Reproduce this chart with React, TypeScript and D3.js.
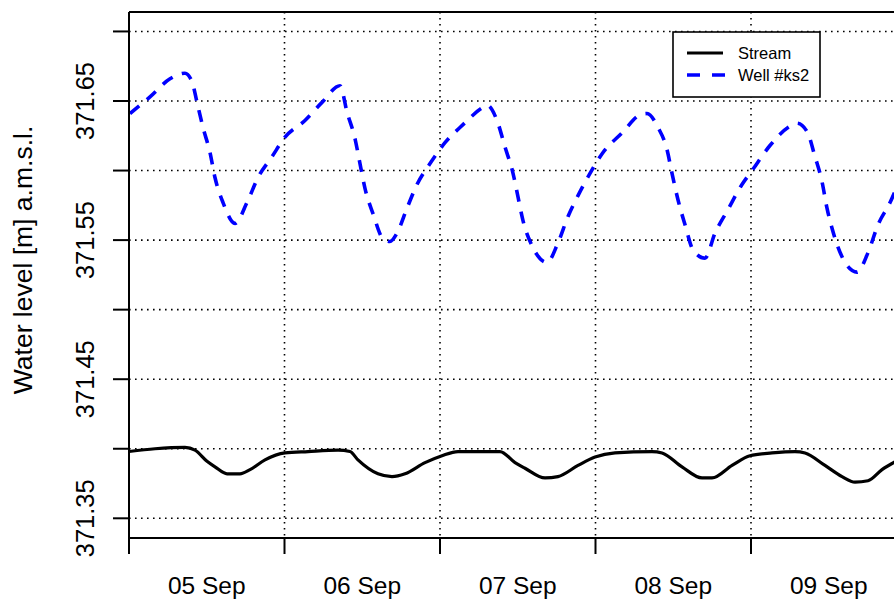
import React from "react";
import * as d3 from "d3";

// Hours after 05 Sep 00:00 and water levels (m a.m.s.l.)
const wellHours = [0.15, 3.24, 6.33, 8.64, 9.72, 10.5, 11.42, 12.5, 13.27, 14.51, 16.36, 18.21, 19.91, 22.07, 24.08, 27.16, 29.79, 32.57, 33.65, 34.88, 35.65, 36.43, 37.66, 39.2, 40.28, 41.36, 42.91, 44.45, 46.46, 48.77, 51.55, 54.48, 55.26, 56.8, 58.03, 59.27, 60.04, 60.81, 62.2, 64.52, 66.21, 67.76, 69.3, 71.15, 73.16, 76.09, 78.87, 79.95, 81.65, 83.04, 83.81, 84.73, 85.82, 87.05, 88.9, 90.45, 92.45, 94.61, 96.16, 98.93, 101.71, 103.1, 104.65, 105.88, 106.96, 107.73, 108.66, 110.05, 112.36, 114.06, 115.6, 117.46, 118.4];
const wellLevel = [371.641, 371.653, 371.666, 371.67, 371.664, 371.649, 371.631, 371.613, 371.595, 371.577, 371.562, 371.577, 371.595, 371.61, 371.624, 371.636, 371.649, 371.661, 371.642, 371.623, 371.605, 371.587, 371.569, 371.551, 371.549, 371.555, 371.573, 371.59, 371.605, 371.62, 371.633, 371.645, 371.647, 371.636, 371.617, 371.598, 371.581, 371.564, 371.546, 371.534, 371.548, 371.567, 371.582, 371.598, 371.613, 371.627, 371.64, 371.641, 371.631, 371.615, 371.598, 371.579, 371.561, 371.543, 371.537, 371.555, 371.572, 371.59, 371.6, 371.618, 371.631, 371.634, 371.628, 371.61, 371.592, 371.573, 371.556, 371.538, 371.527, 371.541, 371.561, 371.577, 371.587];

const streamHours = [0, 4.01, 8.64, 10.19, 12.04, 13.27, 15.13, 17.13, 18.68, 20.99, 24.08, 27.63, 32.26, 34.1, 35.34, 38.43, 40.59, 42.6, 45.69, 48.31, 50.78, 56.03, 57.26, 59.58, 61.12, 64.21, 66.21, 69.3, 71.93, 75.01, 80.72, 82.27, 85.35, 88.44, 89.98, 93.07, 95.85, 99.24, 102.79, 104.34, 107.42, 110.05, 112.05, 114.06, 116.22, 118.38];
const streamLevel = [371.398, 371.4, 371.401, 371.399, 371.391, 371.387, 371.382, 371.382, 371.385, 371.392, 371.397, 371.398, 371.399, 371.398, 371.392, 371.382, 371.38, 371.382, 371.39, 371.395, 371.398, 371.398, 371.398, 371.39, 371.386, 371.379, 371.38, 371.388, 371.394, 371.397, 371.398, 371.397, 371.387, 371.379, 371.379, 371.388, 371.395, 371.397, 371.398, 371.397, 371.388, 371.38, 371.376, 371.377, 371.385, 371.391];

const dayTicks = ["05 Sep", "06 Sep", "07 Sep", "08 Sep", "09 Sep"];
const levelGrid = [371.35, 371.4, 371.45, 371.5, 371.55, 371.6, 371.65, 371.7];
const levelLabels = [371.35, 371.45, 371.55, 371.65];
const seriesNames = ["Stream", "Well #ks2"];

const W = 894;
const H = 599;
const FONT = "'Liberation Sans', Arial, Helvetica, sans-serif";
const start = Date.UTC(2012, 8, 5);
const HOUR = 3600 * 1000;

export default function App() {
  const left = 129;
  const top = 12;
  const bottom = 538;
  const dayPx = 155.5;

  const x = d3
    .scaleUtc()
    .domain([new Date(start), new Date(start + 5 * 24 * HOUR)])
    .range([left, left + 5 * dayPx]);
  const y = d3.scaleLinear().domain([371.35, 371.65]).range([518.3, 101]);

  const line = d3
    .line<[number, number]>()
    .x((d) => x(new Date(start + d[0] * HOUR)))
    .y((d) => y(d[1]))
    .curve(d3.curveMonotoneX);

  const well = wellHours.map((h, i) => [h, wellLevel[i]] as [number, number]);
  const stream = streamHours.map((h, i) => [h, streamLevel[i]] as [number, number]);

  const dayStarts = dayTicks.map((_, i) => new Date(start + i * 24 * HOUR));
  const right = left + 5 * dayPx;

  return (
    <svg
      width={W}
      height={H}
      style={{ position: "absolute", left: 0, top: 0, background: "#fff" }}
      fontFamily={FONT}
    >
      <defs>
        <clipPath id="plotArea">
          <rect x={left} y={top} width={right - left} height={bottom - top} />
        </clipPath>
      </defs>

      {/* dotted grid */}
      <g stroke="#000" strokeWidth={1.6} strokeDasharray="1.6,4.4" fill="none">
        {levelGrid.map((v) => (
          <line key={v} x1={left} x2={right} y1={y(v)} y2={y(v)} />
        ))}
        {dayStarts.slice(1).map((d, i) => (
          <line key={i} x1={x(d)} x2={x(d)} y1={top} y2={bottom} />
        ))}
      </g>

      {/* series */}
      <g clipPath="url(#plotArea)" fill="none">
        <path d={line(stream) || ""} stroke="#000" strokeWidth={3.2} strokeLinejoin="round" />
        <path
          d={line(well) || ""}
          stroke="#0000ff"
          strokeWidth={3.6}
          strokeDasharray="12,10"
          strokeLinejoin="round"
        />
      </g>

      {/* frame */}
      <g stroke="#000" strokeWidth={2} fill="none">
        <line x1={left} x2={right} y1={top} y2={top} />
        <line x1={left} x2={right} y1={bottom} y2={bottom} />
        <line x1={left} x2={left} y1={top} y2={bottom} />
      </g>

      {/* y axis */}
      <g stroke="#000" strokeWidth={2}>
        {levelGrid.map((v) => (
          <line key={v} x1={113} x2={left} y1={y(v)} y2={y(v)} />
        ))}
      </g>
      {levelLabels.map((v) => (
        <text
          key={v}
          transform={`translate(94,${y(v)}) rotate(-90)`}
          textAnchor="middle"
          fontSize={25.5}
          fill="#000"
        >
          {d3.format(".2f")(v)}
        </text>
      ))}
      <text
        transform={`translate(32,260) rotate(-90)`}
        textAnchor="middle"
        fontSize={26.5}
        fill="#000"
      >
        Water level [m] a.m.s.l.
      </text>

      {/* x axis */}
      <g stroke="#000" strokeWidth={2}>
        {dayStarts.map((d, i) => (
          <line key={i} x1={x(d)} x2={x(d)} y1={bottom} y2={554} />
        ))}
      </g>
      {dayStarts.map((d, i) => (
        <text
          key={i}
          x={x(new Date(d.getTime() + 12 * HOUR))}
          y={594}
          textAnchor="middle"
          fontSize={24.5}
          fill="#000"
        >
          {dayTicks[i]}
        </text>
      ))}

      {/* legend */}
      <g>
        <rect x={673} y={32} width={147} height={65} fill="#fff" stroke="#000" strokeWidth={1.6} />
        <line x1={687} x2={723} y1={53} y2={53} stroke="#000" strokeWidth={3.2} />
        <line
          x1={687}
          x2={725}
          y1={75}
          y2={75}
          stroke="#0000ff"
          strokeWidth={3.6}
          strokeDasharray="13,12"
        />
        <text x={738} y={59} fontSize={16.5} fill="#000">
          {seriesNames[0]}
        </text>
        <text x={738} y={81} fontSize={16.5} fill="#000">
          {seriesNames[1]}
        </text>
      </g>
    </svg>
  );
}
